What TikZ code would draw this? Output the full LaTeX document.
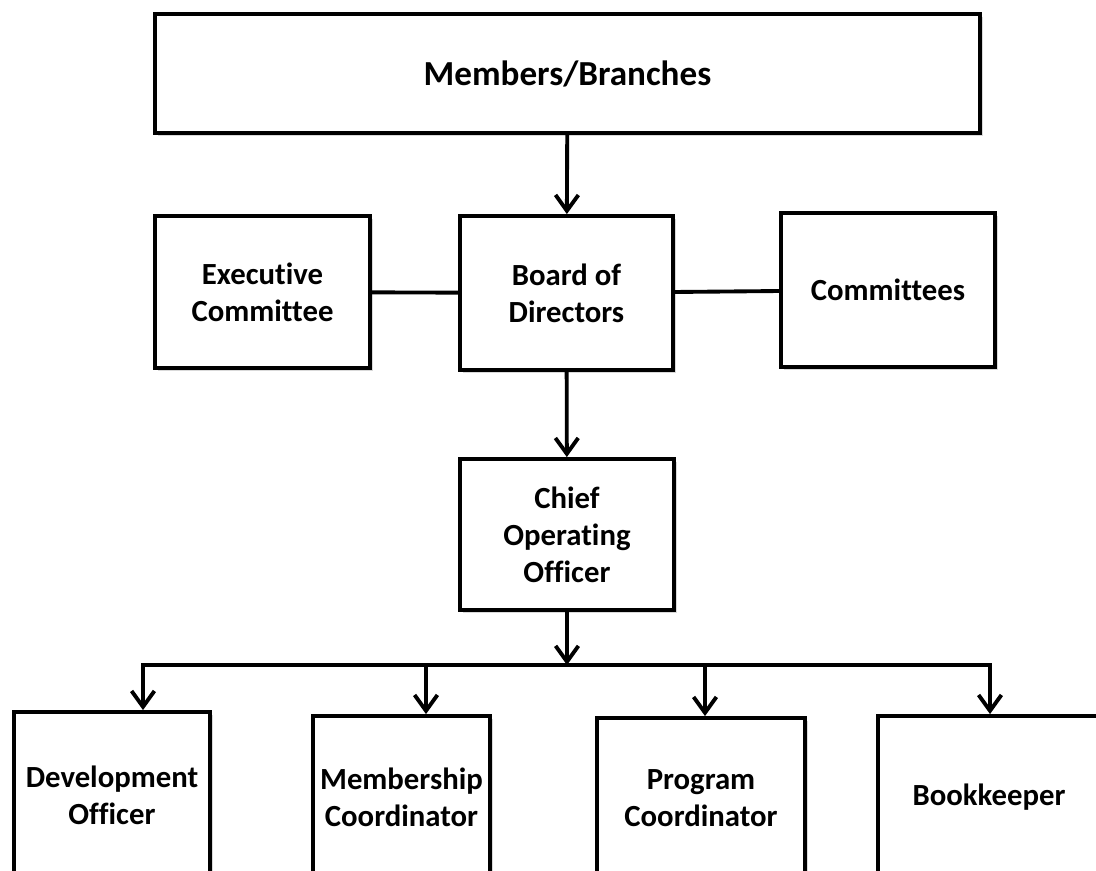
\documentclass[tikz,border=0pt]{standalone}
\usepackage{fontspec}
\setmainfont{Carlito}[Ligatures=NoCommon]
\usetikzlibrary{arrows.meta,shadows}

\begin{document}
\begin{tikzpicture}[x=0.02cm, y=-0.02cm,
    box/.style={draw, line width=2.2pt, fill=white, align=center,
        font=\fontsize{17.5}{21}\selectfont\bfseries,
        drop shadow={shadow xshift=1.5pt, shadow yshift=-1.5pt, opacity=0.3}},
    arr/.style={line width=2.2pt, -{Straight Barb[length=9pt,width=13pt,line width=2.2pt]}},
    link/.style={line width=2.2pt}]
    \useasboundingbox (0,0) rectangle (1096,871);
    \clip (0,0) rectangle (1096,871);

    % top and board level
    \node[box, minimum width=16.5cm, minimum height=2.38cm, font=\fontsize{20}{24}\selectfont\bfseries] (mb) at (567.5,73.5) {Members/Branches};
    \node[box, minimum width=4.3cm, minimum height=3.04cm] (exec) at (262.5,292) {Executive\\Committee};
    \node[box, minimum width=4.26cm, minimum height=3.08cm] (board) at (566.5,293) {Board of\\Directors};
    \node[box, minimum width=4.28cm, minimum height=3.08cm] (comm) at (888,290) {Committees};
    \node[box, minimum width=4.28cm, minimum height=3.02cm] (coo) at (567,534.5) {Chief\\Operating\\Officer};

    % staff
    \node[box, minimum width=3.92cm, minimum height=3.32cm] (dev) at (112,795) {Development\\Officer};
    \node[box, minimum width=3.54cm, minimum height=3.24cm] (memb) at (401.5,797) {Membership\\Coordinator};
    \node[box, minimum width=4.16cm, minimum height=3.2cm] (prog) at (701,798) {Program\\Coordinator};
    \node[box, minimum width=4.44cm, minimum height=3.24cm] (book) at (989,797) {Bookkeeper};

    \draw[arr] (mb) -- (board);
    \draw[link] (exec) -- (board);
    \draw[link] (board) -- (comm);
    \draw[arr] (board) -- (coo);

    \coordinate (bus) at (567,665);
    \draw[arr] (coo) -- (bus);
    \foreach \n/\x in {dev/143, memb/426, prog/705, book/990} {
        \coordinate (d\n) at (\x,665);
        \draw[arr] (d\n) -- (d\n |- \n.north);
    }
    \draw[link, line cap=rect] (ddev) -- (dbook);
\end{tikzpicture}
\end{document}
